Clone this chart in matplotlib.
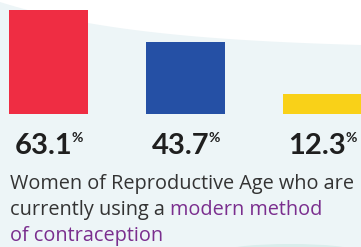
import numpy as np
import matplotlib.pyplot as plt
from matplotlib.patches import Polygon, Ellipse

# data
groups = ["A", "B", "C"]
values = [63.1, 43.7, 12.3]
bar_colors = ["#EF2D43", "#2550A5", "#F9D118"]
caption_plain = ["Women of Reproductive Age who are", "currently using a "]
caption_purple = ["modern method", "of contraception"]

W, H = 361, 247
fig = plt.figure(figsize=(W / 100, H / 100), dpi=100)
fig.patch.set_facecolor("white")

# background: pale blue area below a gentle curve (pixel coords, y down)
bg = fig.add_axes([0, 0, 1, 1])
bg.set_xlim(0, W)
bg.set_ylim(H, 0)
bg.axis("off")
xs = np.linspace(0, W, 200)
ys = 2 + 43 * (1 - np.exp(-xs / 150)) / (1 - np.exp(-W / 150))
poly = np.vstack([np.column_stack([xs, ys]), [[W, H], [0, H]]])
bg.add_patch(Polygon(poly, closed=True, facecolor="#EDF5F7", edgecolor="none"))
bg.add_patch(Ellipse((290, 251), 130, 14, facecolor="#DAEDEC", edgecolor="none"))

# bars
ax = fig.add_axes([0, 0, 1, 1])
ax.patch.set_alpha(0)
px = 137.0  # pixels per category step
scale = 1.648  # pixels per percent
ax.set_xlim(-48.5 / px, (W - 48.5) / px)
ax.set_ylim(-(H - 114) / scale, 114 / scale)
ax.axis("off")

x = np.arange(len(values))
ax.bar(x, values, width=79 / px, color=bar_colors, zorder=2)

for i, v in enumerate(values):
    t = ax.annotate(f"{v}", xy=(i, 0), xytext=(-34, -40), textcoords="offset pixels",
                    ha="left", va="baseline", fontsize=21, fontweight="bold",
                    family="Lato", color="#1f1f1f")
    ax.annotate("%", xy=(1, 1), xycoords=t, xytext=(-1, 1), textcoords="offset pixels",
                ha="left", va="top", fontsize=10, fontweight="bold",
                family="Lato", color="#1f1f1f")

# caption, sized so the first line spans the same width as the original
cap = dict(family="Open Sans", va="baseline", ha="left")
t1 = fig.text(10 / W, 1 - 189 / H, caption_plain[0], color="#333333", fontsize=13, **cap)
fig.canvas.draw()
w1 = t1.get_window_extent().width
size = 13 * 342 / w1
t1.set_fontsize(size)
t2 = fig.text(10 / W, 1 - 215 / H, caption_plain[1], color="#333333", fontsize=size, **cap)
ax.annotate(caption_purple[0], xy=(1, 0), xycoords=t2, xytext=(0, 0),
            textcoords="offset pixels", color="#7A2E8E",
            fontsize=size, family="Open Sans", va="bottom", ha="left")
fig.text(10 / W, 1 - 241 / H, caption_purple[1], color="#7A2E8E", fontsize=size, **cap)

fig.savefig("out.png", dpi=100)
